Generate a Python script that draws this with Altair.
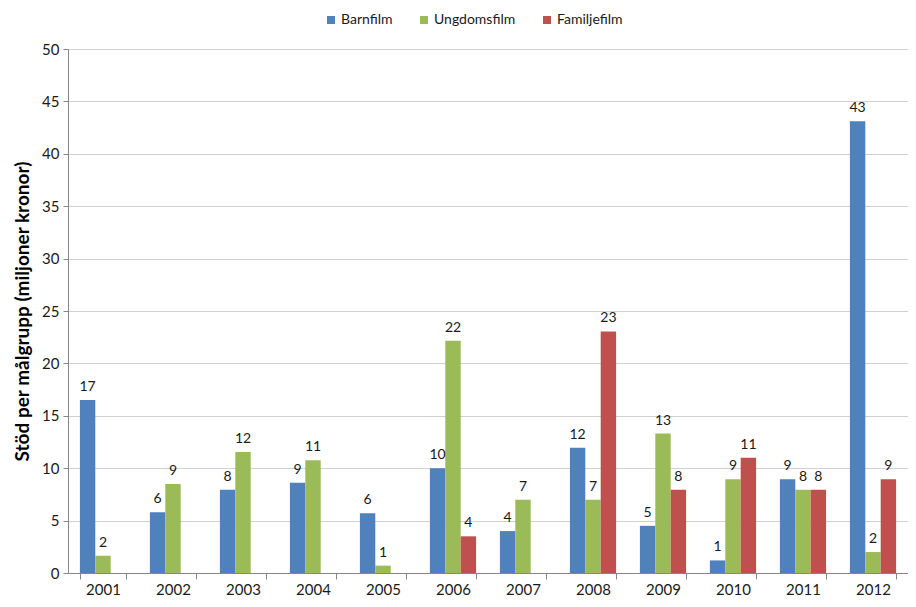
import altair as alt
import pandas as pd

years = [str(y) for y in range(2001, 2013)]
series = ["Barnfilm", "Ungdomsfilm", "Familjefilm"]
colors = ["#4F81BD", "#9BBB59", "#C0504D"]

barnfilm = [16.5, 5.8, 7.95, 8.6, 5.7, 10.0, 4.0, 11.95, 4.5, 1.2, 8.95, 43.1]
ungdomsfilm = [1.65, 8.5, 11.55, 10.75, 0.7, 22.15, 7.0, 7.0, 13.3, 8.95, 7.95, 2.0]
familjefilm = [None, None, None, None, None, 3.5, None, 23.05, 7.95, 11.0, 7.95, 8.95]

barn_labels = ["17", "6", "8", "9", "6", "10", "4", "12", "5", "1", "9", "43"]
ung_labels = ["2", "9", "12", "11", "1", "22", "7", "7", "13", "9", "8", "2"]
fam_labels = ["", "", "", "", "", "4", "", "23", "8", "11", "8", "9"]

rows = []
for vals, labs, s in [(barnfilm, barn_labels, series[0]),
                      (ungdomsfilm, ung_labels, series[1]),
                      (familjefilm, fam_labels, series[2])]:
    for y, v, l in zip(years, vals, labs):
        rows.append({"year": y, "serie": s, "value": v, "label": l})
df = pd.DataFrame(rows)

FONT = "Lato"

x = alt.X("year:N", title=None, sort=years,
          scale=alt.Scale(paddingInner=0.34, paddingOuter=0.17),
          axis=alt.Axis(labelAngle=0, tickBand="extent", tickSize=6,
                        labelFontSize=15, labelColor="#1a1a1a", labelPadding=3,
                        domainColor="#868686", tickColor="#868686", labelFont=FONT))
xo = alt.XOffset("serie:N", sort=series, scale=alt.Scale(domain=series))

bars = alt.Chart(df).mark_bar().encode(
    x=x,
    xOffset=xo,
    y=alt.Y("value:Q", title="Stöd per målgrupp (miljoner kronor)",
            scale=alt.Scale(domain=[0, 50], nice=False),
            axis=alt.Axis(values=list(range(0, 51, 5)), tickSize=5,
                          labelFontSize=15, labelColor="#1a1a1a", labelFont=FONT,
                          labelPadding=4, domainColor="#868686", tickColor="#868686",
                          gridColor="#D0D0D0", titleFontSize=19, titleFont=FONT,
                          titleFontWeight="bold", titleColor="#000000", titlePadding=9)),
    color=alt.Color("serie:N", sort=series,
                    scale=alt.Scale(domain=series, range=colors),
                    legend=alt.Legend(title=None, orient="none", direction="horizontal",
                                      legendX=256, legendY=-36, symbolType="square",
                                      symbolSize=64, symbolStrokeWidth=0,
                                      labelFontSize=14, labelFont=FONT, labelColor="#1a1a1a",
                                      columnPadding=24, labelOffset=3)),
)

labels = alt.Chart(df).mark_text(baseline="bottom", dy=-6, fontSize=14, font=FONT,
                                 color="#1a1a1a").encode(
    x=x,
    xOffset=xo,
    y=alt.Y("value:Q"),
    text="label:N",
)

chart = alt.layer(bars, labels).properties(
    width=840, height=524,
    autosize=alt.AutoSizeParams(type="none"),
    padding={"left": 60, "top": 41, "right": 0, "bottom": 26},
).configure_view(stroke=None).configure_axis(grid=False).configure_axisY(grid=True)

chart.save("out.html", embed_options={"renderer": "svg", "actions": False})
